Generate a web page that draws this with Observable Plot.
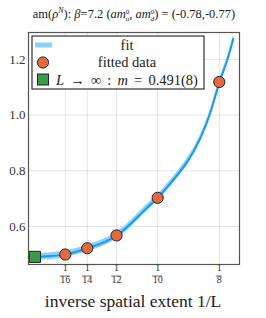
<!DOCTYPE html>
<html><head><meta charset="utf-8">
<script src="https://cdn.jsdelivr.net/npm/d3@7"></script>
<script src="https://cdn.jsdelivr.net/npm/@observablehq/plot@0.6"></script>
<style>body{margin:0;background:#fff} svg text{font-family:"Liberation Serif",serif !important}</style>
</head><body><div id="chart"></div>
<script>
// tick values and labels
const xTicks = [1/16, 1/14, 1/12, 1/10, 1/8];
const xTickDenoms = ["16", "14", "12", "10", "8"];
const yTicks = [0.6, 0.8, 1.0, 1.2];
// fitted data points
const dataX = [1/16, 1/14, 1/12, 1/10, 1/8];
const dataY = [0.4995, 0.522, 0.568, 0.703, 1.119];
// fit curve
const fitX = [0.0476, 0.055, 0.0625, 0.0714, 0.0833, 0.0937, 0.1, 0.1052, 0.112, 0.1174, 0.1215, 0.125, 0.1282, 0.1307];
const fitY = [0.490, 0.493, 0.500, 0.521, 0.567, 0.650, 0.703, 0.755, 0.832, 0.918, 1.012, 1.115, 1.196, 1.274];
const fitErr = [0.012, 0.012, 0.012, 0.012, 0.012, 0.012, 0.012, 0.012, 0.012, 0.012, 0.012, 0.012, 0.012, 0.012];
// infinite-volume extrapolation
const infX = [0.0502];
const infY = [0.491];

const FONT = "Liberation Serif";
const fit = fitX.map((x, i) => ({x, y: fitY[i], lo: fitY[i] - fitErr[i], hi: fitY[i] + fitErr[i]}));
const pts = dataX.map((x, i) => ({x, y: dataY[i]}));
const inf = infX.map((x, i) => ({x, y: infY[i]}));

const plot = Plot.plot({
  width: 266, height: 318,
  marginLeft: 28, marginRight: 27, marginTop: 32, marginBottom: 54,
  style: {fontFamily: FONT, background: "#fff"},
  x: {domain: [0.0476, 0.1332], ticks: xTicks},
  y: {domain: [0.4636, 1.2966], ticks: yTicks},
  marks: [
    Plot.gridX(xTicks, {stroke: "#000", strokeOpacity: 0.1}),
    Plot.gridY(yTicks, {stroke: "#000", strokeOpacity: 0.1}),
    Plot.areaY(fit, {x: "x", y1: "lo", y2: "hi", fill: "#8fd0fa", curve: "natural"}),
    Plot.line(fit, {x: "x", y: "y", stroke: "#1a9af2", strokeWidth: 2, curve: "natural"}),
    Plot.dot(pts, {x: "x", y: "y", r: 5.6, fill: "#e5693f", stroke: "#222", strokeWidth: 1}),
    Plot.dot(inf, {x: "x", y: "y", symbol: "square", r: 6.3, fill: "#3a9b48", stroke: "#222", strokeWidth: 1}),
    Plot.frame({stroke: "#555", strokeWidth: 1.2}),
    Plot.axisY(yTicks, {tickSize: 0, tickPadding: 3, tickFormat: d3.format(".1f"), fontSize: 13, fontFamily: FONT, fill: "#333", label: null}),
    Plot.axisX(xTicks, {tickSize: 0, tickFormat: () => "", label: null}),
    Plot.text(xTicks, {x: d => d, text: () => "1", frameAnchor: "bottom", dy: 6.5, fontSize: 10, fontFamily: FONT, fill: "#333"}),
    Plot.text(xTicks, {x: d => d, text: (d, i) => xTickDenoms[i], frameAnchor: "bottom", dy: 18, fontSize: 10, fontFamily: FONT, fill: "#333"})
  ]
});
document.getElementById("chart").appendChild(plot);

const svg = d3.select(plot);
const xs = plot.scale("x");
const yb = 264;
// fraction bars
xTicks.forEach((t, i) => {
  const cx = xs.apply(t);
  const w = xTickDenoms[i].length > 1 ? 5 : 3;
  svg.append("line").attr("x1", cx - w).attr("x2", cx + w).attr("y1", yb + 12).attr("y2", yb + 12)
    .attr("stroke", "#333").attr("stroke-width", 0.7);
});

// x label
svg.append("text").attr("x", 133).attr("y", 307).attr("text-anchor", "middle")
  .attr("font-family", FONT).attr("font-size", 17.5).attr("fill", "#222")
  .text("inverse spatial extent 1/L");

// title
const tt = svg.append("text").attr("x", 134).attr("y", 18).attr("text-anchor", "middle")
  .attr("font-family", FONT).attr("font-size", 12.5).attr("fill", "#222");
tt.append("tspan").text("am(");
tt.append("tspan").attr("font-style", "italic").text("ρ");
tt.append("tspan").attr("font-size", 8).attr("dy", -5).attr("font-style", "italic").text("N");
tt.append("tspan").attr("dy", 5).text("): ");
tt.append("tspan").attr("font-style", "italic").text("β");
tt.append("tspan").text("=7.2 (");
tt.append("tspan").attr("font-style", "italic").text("am");
tt.append("tspan").attr("font-size", 7).attr("dy", -4.5).text("0");
tt.append("tspan").attr("font-size", 7).attr("font-style", "italic").attr("dx", -3.6).attr("dy", 7.5).text("u");
tt.append("tspan").attr("dy", -3).text(", ");
tt.append("tspan").attr("font-style", "italic").text("am");
tt.append("tspan").attr("font-size", 7).attr("dy", -4.5).text("0");
tt.append("tspan").attr("font-size", 7).attr("font-style", "italic").attr("dx", -3.6).attr("dy", 7.5).text("d");
tt.append("tspan").attr("dy", -3).text(") = (-0.78,-0.77)");

// legend
const lg = svg.append("g");
lg.append("rect").attr("x", 32).attr("y", 36).attr("width", 172).attr("height", 53)
  .attr("fill", "#fff").attr("stroke", "#333").attr("stroke-width", 1.2);
lg.append("rect").attr("x", 35).attr("y", 42.5).attr("width", 17).attr("height", 5).attr("fill", "#8fd0fa");
lg.append("circle").attr("cx", 43).attr("cy", 62.5).attr("r", 5.6).attr("fill", "#e5693f").attr("stroke", "#222");
lg.append("rect").attr("x", 37.5).attr("y", 74).attr("width", 11).attr("height", 11).attr("fill", "#3a9b48").attr("stroke", "#222");
const lt = (y) => lg.append("text").attr("x", 127).attr("y", y).attr("text-anchor", "middle")
  .attr("font-family", FONT).attr("font-size", 14.5).attr("fill", "#222");
lt(49.5).text("fit");
lt(67).text("fitted data");
const l3 = lg.append("text").attr("x", 127).attr("y", 84.5).attr("text-anchor", "middle")
  .attr("font-family", FONT).attr("font-size", 14.5).attr("fill", "#222")
  .attr("word-spacing", 2.5).attr("xml:space", "preserve");
l3.append("tspan").attr("font-style", "italic").text("L");
l3.append("tspan").text(" → ∞ : ");
l3.append("tspan").attr("font-style", "italic").text("m");
l3.append("tspan").text(" = 0.491(8)");
</script></body></html>
